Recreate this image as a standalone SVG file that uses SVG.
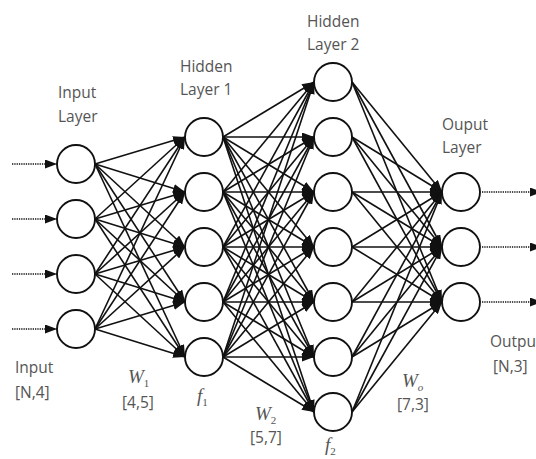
<svg xmlns="http://www.w3.org/2000/svg" width="536" height="459" viewBox="0 0 536 459">
<style>
.n{fill:#fff;stroke:#111;stroke-width:1.9}
.c line{stroke:#111;stroke-width:1.6;marker-end:url(#ah)}
.d{stroke:#333;stroke-width:2.4;stroke-dasharray:1.3 1;marker-end:url(#ah)}
.t{font-family:"Open Sans","DejaVu Sans",sans-serif;font-size:15.5px;fill:#555}
.m{font-family:"Liberation Serif",serif;font-style:italic;font-size:19px;fill:#555}
.s{font-size:11px;font-style:normal}
</style>
<defs>
<marker id="ah" markerUnits="userSpaceOnUse" markerWidth="12" markerHeight="9" refX="12" refY="4.5" orient="auto"><path d="M0,0 L12,4.5 L0,9 z" fill="#111"/></marker>
</defs>
<rect width="536" height="459" fill="#fff"/>
<g id="connectors" class="c">
<line x1="95" y1="164" x2="185" y2="137"/><line x1="95" y1="164" x2="185" y2="192"/><line x1="95" y1="164" x2="185" y2="247"/><line x1="95" y1="164" x2="185" y2="302"/><line x1="95" y1="164" x2="185" y2="357"/>
<line x1="95" y1="219" x2="185" y2="137"/><line x1="95" y1="219" x2="185" y2="192"/><line x1="95" y1="219" x2="185" y2="247"/><line x1="95" y1="219" x2="185" y2="302"/><line x1="95" y1="219" x2="185" y2="357"/>
<line x1="95" y1="274" x2="185" y2="137"/><line x1="95" y1="274" x2="185" y2="192"/><line x1="95" y1="274" x2="185" y2="247"/><line x1="95" y1="274" x2="185" y2="302"/><line x1="95" y1="274" x2="185" y2="357"/>
<line x1="95" y1="329" x2="185" y2="137"/><line x1="95" y1="329" x2="185" y2="192"/><line x1="95" y1="329" x2="185" y2="247"/><line x1="95" y1="329" x2="185" y2="302"/><line x1="95" y1="329" x2="185" y2="357"/>
<line x1="223" y1="137" x2="314" y2="82"/><line x1="223" y1="137" x2="314" y2="137"/><line x1="223" y1="137" x2="314" y2="192"/><line x1="223" y1="137" x2="314" y2="247"/><line x1="223" y1="137" x2="314" y2="302"/><line x1="223" y1="137" x2="314" y2="357"/><line x1="223" y1="137" x2="314" y2="412"/>
<line x1="223" y1="192" x2="314" y2="82"/><line x1="223" y1="192" x2="314" y2="137"/><line x1="223" y1="192" x2="314" y2="192"/><line x1="223" y1="192" x2="314" y2="247"/><line x1="223" y1="192" x2="314" y2="302"/><line x1="223" y1="192" x2="314" y2="357"/><line x1="223" y1="192" x2="314" y2="412"/>
<line x1="223" y1="247" x2="314" y2="82"/><line x1="223" y1="247" x2="314" y2="137"/><line x1="223" y1="247" x2="314" y2="192"/><line x1="223" y1="247" x2="314" y2="247"/><line x1="223" y1="247" x2="314" y2="302"/><line x1="223" y1="247" x2="314" y2="357"/><line x1="223" y1="247" x2="314" y2="412"/>
<line x1="223" y1="302" x2="314" y2="82"/><line x1="223" y1="302" x2="314" y2="137"/><line x1="223" y1="302" x2="314" y2="192"/><line x1="223" y1="302" x2="314" y2="247"/><line x1="223" y1="302" x2="314" y2="302"/><line x1="223" y1="302" x2="314" y2="357"/><line x1="223" y1="302" x2="314" y2="412"/>
<line x1="223" y1="357" x2="314" y2="82"/><line x1="223" y1="357" x2="314" y2="137"/><line x1="223" y1="357" x2="314" y2="192"/><line x1="223" y1="357" x2="314" y2="247"/><line x1="223" y1="357" x2="314" y2="302"/><line x1="223" y1="357" x2="314" y2="357"/><line x1="223" y1="357" x2="314" y2="412"/>
<line x1="352" y1="82" x2="442" y2="192"/><line x1="352" y1="82" x2="442" y2="247"/><line x1="352" y1="82" x2="442" y2="302"/>
<line x1="352" y1="137" x2="442" y2="192"/><line x1="352" y1="137" x2="442" y2="247"/><line x1="352" y1="137" x2="442" y2="302"/>
<line x1="352" y1="192" x2="442" y2="192"/><line x1="352" y1="192" x2="442" y2="247"/><line x1="352" y1="192" x2="442" y2="302"/>
<line x1="352" y1="247" x2="442" y2="192"/><line x1="352" y1="247" x2="442" y2="247"/><line x1="352" y1="247" x2="442" y2="302"/>
<line x1="352" y1="302" x2="442" y2="192"/><line x1="352" y1="302" x2="442" y2="247"/><line x1="352" y1="302" x2="442" y2="302"/>
<line x1="352" y1="357" x2="442" y2="192"/><line x1="352" y1="357" x2="442" y2="247"/><line x1="352" y1="357" x2="442" y2="302"/>
<line x1="352" y1="412" x2="442" y2="192"/><line x1="352" y1="412" x2="442" y2="247"/><line x1="352" y1="412" x2="442" y2="302"/>
<line class="d" x1="12" y1="164" x2="57" y2="164"/><line class="d" x1="12" y1="219" x2="57" y2="219"/><line class="d" x1="12" y1="274" x2="57" y2="274"/><line class="d" x1="12" y1="329" x2="57" y2="329"/>
<line class="d" x1="482" y1="192" x2="542" y2="192"/><line class="d" x1="482" y1="247" x2="542" y2="247"/><line class="d" x1="482" y1="302" x2="542" y2="302"/>
</g>
<g id="input-layer">
<circle class="n" cx="76" cy="164" r="19"/><circle class="n" cx="76" cy="219" r="19"/><circle class="n" cx="76" cy="274" r="19"/><circle class="n" cx="76" cy="329" r="19"/>
<text class="t" x="58" y="98">Input</text><text class="t" x="58" y="122">Layer</text>
</g>
<g id="hidden-layer-1">
<circle class="n" cx="204" cy="137" r="19"/><circle class="n" cx="204" cy="192" r="19"/><circle class="n" cx="204" cy="247" r="19"/><circle class="n" cx="204" cy="302" r="19"/><circle class="n" cx="204" cy="357" r="19"/>
<text class="t" x="180" y="72">Hidden</text><text class="t" x="180" y="95">Layer 1</text>
</g>
<g id="hidden-layer-2">
<circle class="n" cx="333" cy="82" r="19"/><circle class="n" cx="333" cy="137" r="19"/><circle class="n" cx="333" cy="192" r="19"/><circle class="n" cx="333" cy="247" r="19"/><circle class="n" cx="333" cy="302" r="19"/><circle class="n" cx="333" cy="357" r="19"/><circle class="n" cx="333" cy="412" r="19"/>
<text class="t" x="307" y="27">Hidden</text><text class="t" x="307" y="50">Layer 2</text>
</g>
<g id="output-layer">
<circle class="n" cx="461" cy="192" r="19"/><circle class="n" cx="461" cy="247" r="19"/><circle class="n" cx="461" cy="302" r="19"/>
<text class="t" x="442" y="130">Ouput</text><text class="t" x="442" y="153">Layer</text>
</g>
<g id="labels">
<text class="t" x="15" y="373">Input</text><text class="t" x="15" y="398">[N,4]</text>
<text class="m" x="128" y="383">W<tspan class="s" dy="4">1</tspan></text><text class="t" x="122" y="408">[4,5]</text>
<text class="m" x="197" y="402">f<tspan class="s" dy="4">1</tspan></text>
<text class="m" x="255" y="420">W<tspan class="s" dy="4">2</tspan></text><text class="t" x="250" y="443">[5,7]</text>
<text class="m" x="325" y="451">f<tspan class="s" dy="4">2</tspan></text>
<text class="m" x="402" y="387">W<tspan class="s" style="font-style:italic" dy="4">o</tspan></text><text class="t" x="397" y="410">[7,3]</text>
<text class="t" x="490" y="347">Output</text><text class="t" x="493" y="372">[N,3]</text>
</g>
</svg>
